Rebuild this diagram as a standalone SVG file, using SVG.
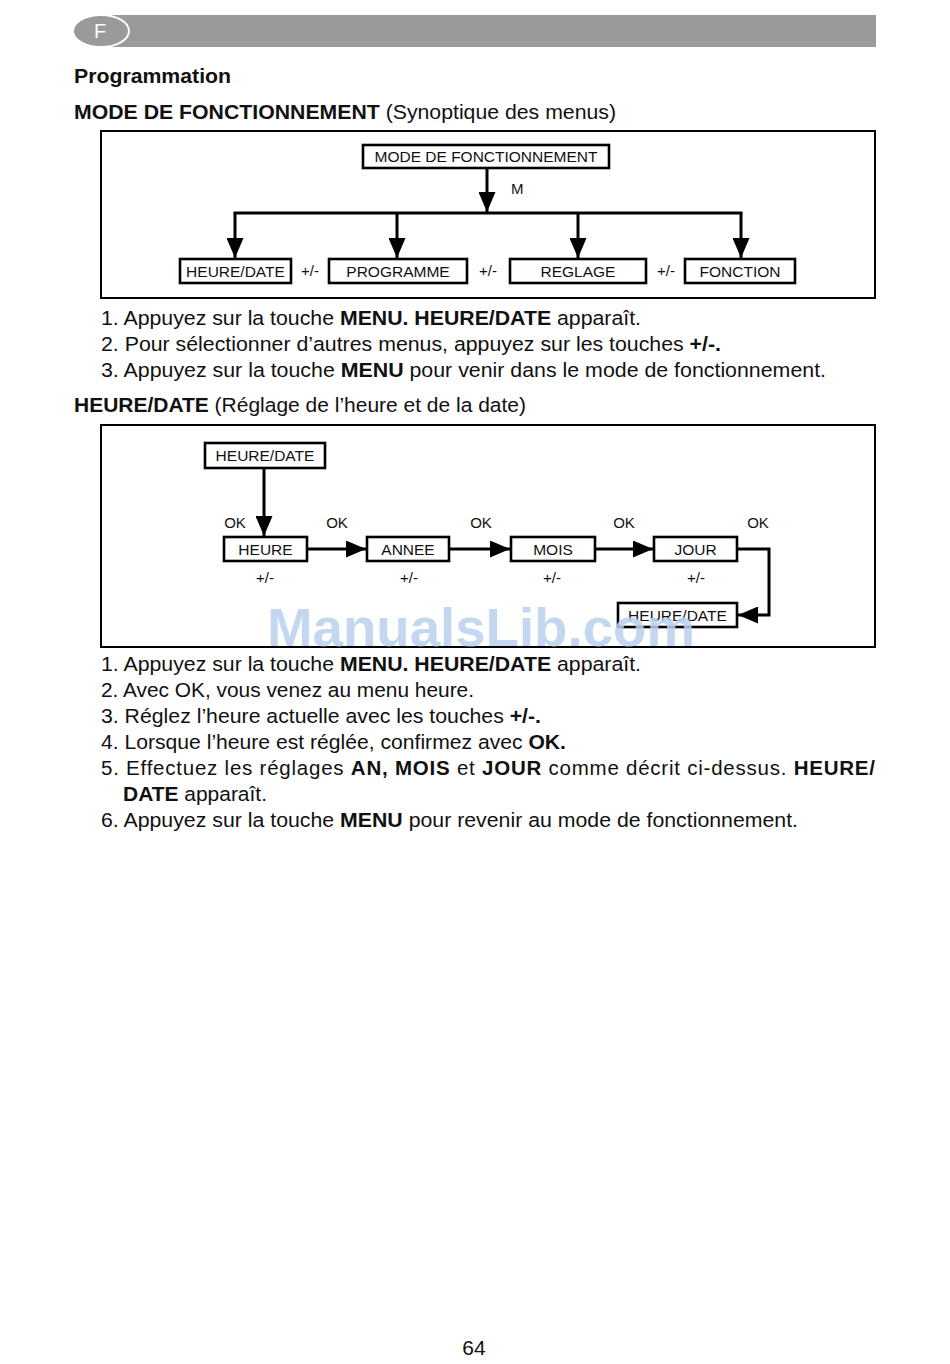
<svg xmlns="http://www.w3.org/2000/svg" width="950" height="1364" viewBox="0 0 950 1364">
<defs>
<style>
.t{font-family:"Liberation Sans",Arial,sans-serif;fill:#111}
.b{font-weight:bold}
.body{font-size:20.5px}
.lbl{font-size:15.5px;text-anchor:middle}
.sm{font-size:15px;text-anchor:middle}
.node{fill:#fff;stroke:#000;stroke-width:2.6}
.frame{fill:none;stroke:#000;stroke-width:2}
.con{fill:none;stroke:#000;stroke-width:3}
</style>
<marker id="ah" markerUnits="userSpaceOnUse" markerWidth="20" markerHeight="17" refX="20" refY="8.5" orient="auto" viewBox="0 0 20 17">
<path d="M0,0 L20,8.5 L0,17 Z" fill="#000"/>
</marker>
</defs>
<rect width="950" height="1364" fill="#fff"/>

<g id="header">
<rect x="110" y="15" width="766" height="32" fill="#9a9a9a"/>
<ellipse cx="101" cy="31" rx="28" ry="16" fill="#9a9a9a" stroke="#fff" stroke-width="2"/>
<text x="100" y="38" font-family="Liberation Sans,Arial,sans-serif" font-size="20" fill="#fff" text-anchor="middle">F</text>
</g>

<text class="t b" x="74" y="83" font-size="20" textLength="157" lengthAdjust="spacingAndGlyphs">Programmation</text>
<text class="t" x="74" y="119" font-size="20.5" textLength="542" lengthAdjust="spacingAndGlyphs"><tspan class="b">MODE DE FONCTIONNEMENT</tspan> (Synoptique des menus)</text>

<rect class="frame" x="101" y="131" width="774" height="167"/>

<g id="connectors1">
<line class="con" x1="487" y1="168" x2="487" y2="212" marker-end="url(#ah)"/>
<line class="con" x1="233.5" y1="213" x2="742.5" y2="213"/>
<line class="con" x1="235" y1="213" x2="235" y2="258" marker-end="url(#ah)"/>
<line class="con" x1="397" y1="213" x2="397" y2="258" marker-end="url(#ah)"/>
<line class="con" x1="578" y1="213" x2="578" y2="258" marker-end="url(#ah)"/>
<line class="con" x1="741" y1="213" x2="741" y2="258" marker-end="url(#ah)"/>
</g>
<text class="t" x="511" y="194" font-size="15">M</text>

<g id="n-mode">
<rect class="node" x="363" y="145" width="246" height="23"/>
<text class="t lbl" x="486" y="162">MODE DE FONCTIONNEMENT</text>
</g>
<g id="n-heuredate1">
<rect class="node" x="180" y="259" width="111" height="24"/>
<text class="t lbl" x="235.5" y="277">HEURE/DATE</text>
</g>
<g id="n-programme">
<rect class="node" x="329" y="259" width="138" height="24"/>
<text class="t lbl" x="398" y="277">PROGRAMME</text>
</g>
<g id="n-reglage">
<rect class="node" x="510" y="259" width="136" height="24"/>
<text class="t lbl" x="578" y="277">REGLAGE</text>
</g>
<g id="n-fonction">
<rect class="node" x="685" y="259" width="110" height="24"/>
<text class="t lbl" x="740" y="277">FONCTION</text>
</g>
<text class="t sm" x="310" y="276">+/-</text>
<text class="t sm" x="488" y="276">+/-</text>
<text class="t sm" x="666" y="276">+/-</text>

<text class="t body" x="101" y="325" textLength="540" lengthAdjust="spacingAndGlyphs">1. Appuyez sur la touche <tspan class="b">MENU. HEURE/DATE</tspan> apparaît.</text>
<text class="t body" x="101" y="351" textLength="620" lengthAdjust="spacingAndGlyphs">2. Pour sélectionner d’autres menus, appuyez sur les touches <tspan class="b">+/-.</tspan></text>
<text class="t body" x="101" y="377" textLength="725" lengthAdjust="spacingAndGlyphs">3. Appuyez sur la touche <tspan class="b">MENU</tspan> pour venir dans le mode de fonctionnement.</text>

<text class="t body" x="74" y="412" textLength="452" lengthAdjust="spacingAndGlyphs"><tspan class="b">HEURE/DATE</tspan> (Réglage de l’heure et de la date)</text>

<rect class="frame" x="101" y="425" width="774" height="222"/>

<g id="connectors2">
<line class="con" x1="264" y1="468" x2="264" y2="536" marker-end="url(#ah)"/>
<line class="con" x1="307" y1="549" x2="366" y2="549" marker-end="url(#ah)"/>
<line class="con" x1="449" y1="549" x2="510" y2="549" marker-end="url(#ah)"/>
<line class="con" x1="595" y1="549" x2="653" y2="549" marker-end="url(#ah)"/>
<polyline class="con" points="737,549 769,549 769,615 738,615" marker-end="url(#ah)"/>
</g>

<g id="n-heuredate2">
<rect class="node" x="205" y="443" width="120" height="25"/>
<text class="t lbl" x="265" y="461">HEURE/DATE</text>
</g>
<g id="n-heure">
<rect class="node" x="224" y="537" width="83" height="24"/>
<text class="t lbl" x="265.5" y="555">HEURE</text>
</g>
<g id="n-annee">
<rect class="node" x="367" y="537" width="82" height="24"/>
<text class="t lbl" x="408" y="555">ANNEE</text>
</g>
<g id="n-mois">
<rect class="node" x="511" y="537" width="84" height="24"/>
<text class="t lbl" x="553" y="555">MOIS</text>
</g>
<g id="n-jour">
<rect class="node" x="654" y="537" width="83" height="24"/>
<text class="t lbl" x="695.5" y="555">JOUR</text>
</g>
<g id="n-heuredate3">
<rect class="node" x="618" y="603" width="119" height="24"/>
<text class="t lbl" x="677.5" y="621">HEURE/DATE</text>
</g>

<text class="t sm" x="235" y="528">OK</text>
<text class="t sm" x="337" y="528">OK</text>
<text class="t sm" x="481" y="528">OK</text>
<text class="t sm" x="624" y="528">OK</text>
<text class="t sm" x="758" y="528">OK</text>
<text class="t sm" x="265" y="583">+/-</text>
<text class="t sm" x="409" y="583">+/-</text>
<text class="t sm" x="552" y="583">+/-</text>
<text class="t sm" x="696" y="583">+/-</text>

<text x="481" y="646" font-family="Liberation Sans,Arial,sans-serif" font-weight="bold" font-size="54" fill="#b9d0ee" fill-opacity="0.85" text-anchor="middle" textLength="428" lengthAdjust="spacingAndGlyphs">ManualsLib.com</text>

<text class="t body" x="101" y="671" textLength="540" lengthAdjust="spacingAndGlyphs">1. Appuyez sur la touche <tspan class="b">MENU. HEURE/DATE</tspan> apparaît.</text>
<text class="t body" x="101" y="697" textLength="373" lengthAdjust="spacingAndGlyphs">2. Avec OK, vous venez au menu heure.</text>
<text class="t body" x="101" y="723" textLength="440" lengthAdjust="spacingAndGlyphs">3. Réglez l’heure actuelle avec les touches <tspan class="b">+/-.</tspan></text>
<text class="t body" x="101" y="749" textLength="465" lengthAdjust="spacingAndGlyphs">4. Lorsque l’heure est réglée, confirmez avec <tspan class="b">OK.</tspan></text>
<text class="t body" x="101" y="775" textLength="774" lengthAdjust="spacing">5. Effectuez les réglages <tspan class="b">AN, MOIS</tspan> et <tspan class="b">JOUR</tspan> comme décrit ci-dessus. <tspan class="b">HEURE/</tspan></text>
<text class="t body" x="123" y="801" textLength="144" lengthAdjust="spacingAndGlyphs"><tspan class="b">DATE</tspan> apparaît.</text>
<text class="t body" x="101" y="827" textLength="697" lengthAdjust="spacingAndGlyphs">6. Appuyez sur la touche <tspan class="b">MENU</tspan> pour revenir au mode de fonctionnement.</text>

<text class="t" x="474" y="1355" font-size="21" text-anchor="middle">64</text>
</svg>
